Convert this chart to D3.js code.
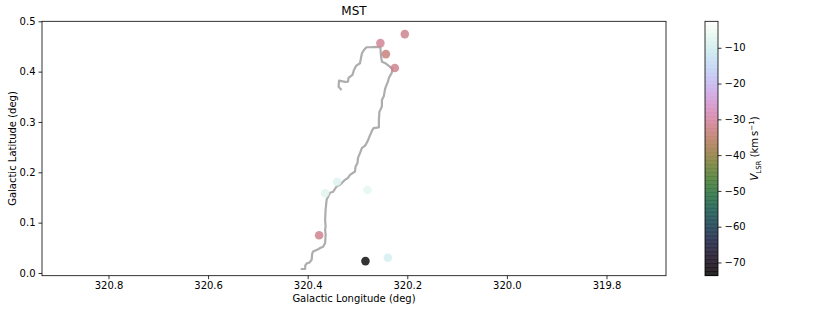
<!DOCTYPE html>
<html>
<head>
<meta charset="utf-8">
<script src="https://cdn.jsdelivr.net/npm/d3@7"></script>
<style>
body { margin: 0; background: #fff; }
text { font-family: "DejaVu Sans", sans-serif; }
</style>
</head>
<body>
<div id="chart"></div>
<script>
// clump positions and velocities
var lon  = [320.205, 320.254, 320.243, 320.225, 320.341, 320.365, 320.280, 320.377, 320.284, 320.239];
var lat  = [0.4746, 0.4567, 0.4348, 0.4072, 0.1809, 0.1584, 0.1650, 0.0749, 0.0236, 0.0304];
var vlsr = [-32.0, -31.5, -33.5, -32.0, -8.0, -7.5, -7.0, -32.0, -73.7, -9.5];
var vRange = [-73.7, -2.6];

// minimum spanning tree trace
var mstLon = [320.414, 320.405, 320.405, 320.401, 320.397, 320.392, 320.391, 320.389, 320.379, 320.375,
              320.369, 320.365, 320.364, 320.365, 320.364, 320.365, 320.364, 320.362, 320.355, 320.349,
              320.342, 320.335, 320.325, 320.319, 320.315, 320.305, 320.304, 320.300, 320.299, 320.295,
              320.291, 320.285, 320.280, 320.276, 320.271, 320.268, 320.257, 320.257, 320.256, 320.251,
              320.251, 320.247, 320.245, 320.243, 320.239, 320.237, 320.231, 320.230, 320.237, 320.245,
              320.251, 320.253, 320.254, 320.261, 320.275, 320.282, 320.287, 320.291, 320.293, 320.295,
              320.303, 320.307, 320.310, 320.318, 320.319, 320.325, 320.337, 320.338, 320.332];
var mstLat = [0.0079, 0.0079, 0.0145, 0.0198, 0.0204, 0.0264, 0.0383, 0.0429, 0.0472, 0.0496,
              0.0522, 0.0595, 0.0760, 0.0859, 0.0925, 0.1058, 0.1256, 0.1454, 0.1593, 0.1613,
              0.1718, 0.1752, 0.1851, 0.1891, 0.1950, 0.2016, 0.2109, 0.2183, 0.2288, 0.2381,
              0.2486, 0.2526, 0.2611, 0.2710, 0.2823, 0.2877, 0.2893, 0.3042, 0.3200, 0.3306,
              0.3438, 0.3518, 0.3637, 0.3702, 0.3796, 0.3875, 0.3980, 0.4054, 0.4113, 0.4173,
              0.4198, 0.4331, 0.4484, 0.4490, 0.4484, 0.4484, 0.4431, 0.4365, 0.4272, 0.4167,
              0.4113, 0.4034, 0.3935, 0.3875, 0.3802, 0.3796, 0.3821, 0.3702, 0.3637];

var xTicks = [320.8, 320.6, 320.4, 320.2, 320.0, 319.8];
var yTicks = [0.0, 0.1, 0.2, 0.3, 0.4, 0.5];
var cTicks = [-10, -20, -30, -40, -50, -60, -70];

var w = 830, h = 312;
var mLeft = 42, mRight = 666, mTop = 21.3, mBottom = 275.7;
var cbLeft = 705, cbRight = 718;

var svg = d3.select("#chart").append("svg")
    .attr("width", w)
    .attr("height", h);

var x = d3.scaleLinear().domain([320.9335, 319.6805]).range([mLeft, mRight]);
var y = d3.scaleLinear().domain([-0.0054, 0.5]).range([mBottom, mTop]);
var color = d3.scaleSequential(d3.interpolateCubehelixDefault).domain(vRange);
var cy = d3.scaleLinear().domain(vRange).range([mBottom, mTop]);

var fmt = function (d) { return d3.format(".1f")(d); };

// mst line
var pts = mstLon.map(function (d, i) { return [d, mstLat[i]]; });
svg.append("path")
    .datum(pts)
    .attr("d", d3.line().x(function (d) { return x(d[0]); }).y(function (d) { return y(d[1]); }))
    .attr("fill", "none")
    .attr("stroke", "#adadad")
    .attr("stroke-width", 2.2)
    .attr("stroke-linejoin", "round");

// clumps
svg.selectAll("circle.clump")
    .data(vlsr)
    .enter()
    .append("circle")
    .attr("class", "clump")
    .attr("cx", function (d, i) { return x(lon[i]); })
    .attr("cy", function (d, i) { return y(lat[i]); })
    .attr("r", 4.3)
    .attr("fill", function (d) { return color(d); })
    .attr("fill-opacity", 0.8);

// axes
var xAxis = svg.append("g")
    .attr("transform", "translate(0," + mBottom + ")")
    .call(d3.axisBottom(x).tickValues(xTicks).tickFormat(fmt).tickSize(3.5).tickPadding(3));
var yAxis = svg.append("g")
    .attr("transform", "translate(" + mLeft + ",0)")
    .call(d3.axisLeft(y).tickValues(yTicks).tickFormat(fmt).tickSize(3.5).tickPadding(3));
[xAxis, yAxis].forEach(function (a) {
    a.select(".domain").remove();
    a.selectAll("text").attr("font-size", 10).attr("fill", "#000").attr("font-family", "DejaVu Sans");
    a.selectAll("line").attr("stroke", "#000").attr("stroke-width", 0.8);
});

svg.append("rect")
    .attr("x", mLeft).attr("y", mTop)
    .attr("width", mRight - mLeft).attr("height", mBottom - mTop)
    .attr("fill", "none")
    .attr("stroke", "#000")
    .attr("stroke-width", 0.8);

svg.append("text")
    .attr("x", (mLeft + mRight) / 2).attr("y", 15)
    .attr("text-anchor", "middle")
    .attr("font-size", 12)
    .text("MST");

svg.append("text")
    .attr("x", (mLeft + mRight) / 2).attr("y", 302)
    .attr("text-anchor", "middle")
    .attr("font-size", 10)
    .text("Galactic Longitude (deg)");

svg.append("text")
    .attr("transform", "translate(16," + (mTop + mBottom) / 2 + ")rotate(-90)")
    .attr("text-anchor", "middle")
    .attr("font-size", 10)
    .text("Galactic Latitude (deg)");

// colorbar
var nSteps = 64;
var steps = d3.range(nSteps).map(function (i) {
    return vRange[0] + (vRange[1] - vRange[0]) * i / nSteps;
});
var stepH = (mBottom - mTop) / nSteps;
svg.append("g").selectAll("rect")
    .data(steps)
    .enter()
    .append("rect")
    .attr("x", cbLeft)
    .attr("y", function (d) { return cy(d) - stepH - 0.3; })
    .attr("width", cbRight - cbLeft)
    .attr("height", stepH + 0.6)
    .attr("fill", function (d) { return color(d + (vRange[1] - vRange[0]) / (2 * nSteps)); })
    .attr("fill-opacity", 0.85);

svg.append("rect")
    .attr("x", cbLeft).attr("y", mTop)
    .attr("width", cbRight - cbLeft).attr("height", mBottom - mTop)
    .attr("fill", "none")
    .attr("stroke", "#000")
    .attr("stroke-width", 0.8);

var cAxis = svg.append("g")
    .attr("transform", "translate(" + cbRight + ",0)")
    .call(d3.axisRight(cy).tickValues(cTicks).tickFormat(function (d) { return "\u2212" + Math.abs(d); }).tickSize(3.5).tickPadding(3));
cAxis.select(".domain").remove();
cAxis.selectAll("text").attr("font-size", 10).attr("fill", "#000").attr("font-family", "DejaVu Sans");
cAxis.selectAll("line").attr("stroke", "#000").attr("stroke-width", 0.8);

var cLabel = svg.append("text")
    .attr("transform", "translate(758," + (mTop + mBottom) / 2 + ")rotate(-90)")
    .attr("text-anchor", "middle")
    .attr("font-size", 10);
cLabel.append("tspan").attr("font-style", "italic").text("V");
cLabel.append("tspan").attr("font-size", 7).attr("dy", 2.5).text("LSR");
cLabel.append("tspan").attr("dy", -2.5).text(" (km\u2009s");
cLabel.append("tspan").attr("font-size", 7).attr("dy", -4).text("\u22121");
cLabel.append("tspan").attr("dy", 4).text(")");
</script>
</body>
</html>
